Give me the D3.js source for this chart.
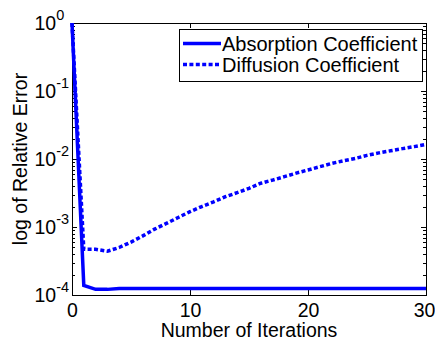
<html lang="en">
<head>
<meta charset="utf-8">
<title>Relative error vs iterations</title>
<style>
  body { margin: 0; background: white; }
  text { font-family: Arial, "Liberation Sans", Helvetica, sans-serif; fill: black; }
  .axis path, .axis line { stroke: black; stroke-width: 1px; shape-rendering: crispEdges; }
  .axis text { font-size: 19.5px; }
</style>
</head>
<body>
<div id="chart"></div>
<script src="https://d3js.org/d3.v7.min.js"></script>
<script>
// data
var iterations = [0,1,2,3,4,5,6,7,8,9,10,11,12,13,14,15,16,17,18,19,20,21,22,23,24,25,26,27,28,29,30];
var absorption = [1, 1.38e-4, 1.21e-4, 1.21e-4, 1.25e-4, 1.25e-4, 1.25e-4, 1.25e-4, 1.25e-4, 1.25e-4,
                  1.25e-4, 1.25e-4, 1.25e-4, 1.25e-4, 1.25e-4, 1.25e-4, 1.25e-4, 1.25e-4, 1.25e-4, 1.25e-4,
                  1.25e-4, 1.25e-4, 1.25e-4, 1.25e-4, 1.25e-4, 1.25e-4, 1.25e-4, 1.25e-4, 1.25e-4, 1.25e-4, 1.25e-4];
var diffusion = [1, 4.7e-4, 4.7e-4, 4.4e-4, 5.0e-4, 6.0e-4, 7.4e-4, 9.3e-4, 1.13e-3, 1.38e-3,
                 1.68e-3, 2.0e-3, 2.34e-3, 2.79e-3, 3.2e-3, 3.7e-3, 4.4e-3, 4.9e-3, 5.5e-3, 6.2e-3,
                 6.9e-3, 7.7e-3, 8.6e-3, 9.4e-3, 1.02e-2, 1.13e-2, 1.23e-2, 1.32e-2, 1.42e-2, 1.52e-2, 1.64e-2];
var seriesNames = ["Absorption Coefficient", "Diffusion Coefficient"];
var xTicks = [0, 10, 20, 30];
var yExponents = [0, -1, -2, -3, -4];

var width = 435, height = 341;
var margin = {left: 72, top: 23, right: 9, bottom: 46};
var blue = "#0000ff";

var svg = d3.select("#chart").append("svg")
    .attr("width", width)
    .attr("height", height);

var x = d3.scaleLinear().domain([0, 30]).range([margin.left, width - margin.right]);
var y = d3.scaleLog().domain([1e-4, 1]).range([height - margin.bottom, margin.top]);

// minor log ticks 2..9 per decade
var minor = [];
yExponents.forEach(function(e) {
    if (e === 0) return;
    for (var k = 2; k <= 9; k++) minor.push(k * Math.pow(10, e));
});
var major = yExponents.map(function(e) { return Math.pow(10, e); });

// frame
svg.append("rect")
    .attr("x", x(0)).attr("y", y(1))
    .attr("width", x(30) - x(0)).attr("height", y(1e-4) - y(1))
    .attr("fill", "white").attr("stroke", "black").attr("stroke-width", 1)
    .attr("shape-rendering", "crispEdges");

// x axes (bottom with labels, top mirrored)
svg.append("g").attr("class", "axis")
    .attr("transform", "translate(0," + y(1e-4) + ")")
    .call(d3.axisBottom(x).tickValues(xTicks).tickSize(-5).tickPadding(8).tickFormat(d3.format("d")))
    .selectAll(".tick text")
    .attr("dx", function(d) { return d === 30 ? -2 : 0; });
svg.append("g").attr("class", "axis")
    .attr("transform", "translate(0," + y(1) + ")")
    .call(d3.axisTop(x).tickValues(xTicks).tickSize(-5).tickFormat(""));

// y axes: major + minor ticks, left and right
[["left", x(0)], ["right", x(30)]].forEach(function(s) {
    var mk = s[0] === "left" ? d3.axisLeft : d3.axisRight;
    svg.append("g").attr("class", "axis")
        .attr("transform", "translate(" + s[1] + ",0)")
        .call(mk(y).tickValues(major).tickSize(-5).tickFormat(""));
    svg.append("g").attr("class", "axis")
        .attr("transform", "translate(" + s[1] + ",0)")
        .call(mk(y).tickValues(minor).tickSize(-3).tickFormat(""));
});

// y tick labels with superscript exponents
var yl = svg.append("g").selectAll("text")
    .data(yExponents).enter().append("text")
    .attr("x", 34.5)
    .attr("y", function(e) { return y(Math.pow(10, e)) + 7; })
    .attr("font-size", "19.5px");
yl.append("tspan").text("10");
yl.append("tspan")
    .attr("dy", -10)
    .attr("font-size", "14.5px")
    .text(function(e) { return e; });

// axis titles
svg.append("text")
    .attr("x", (x(0) + x(30)) / 2)
    .attr("y", 337)
    .attr("text-anchor", "middle")
    .attr("font-size", "19.5px")
    .text("Number of Iterations");
svg.append("text")
    .attr("transform", "translate(27," + (y(1) + y(1e-4)) / 2 + ") rotate(-90)")
    .attr("text-anchor", "middle")
    .attr("font-size", "19.5px")
    .text("log of Relative Error");

// lines
var line = d3.line()
    .x(function(d) { return x(d[0]); })
    .y(function(d) { return y(d[1]); });

svg.append("path")
    .datum(iterations.map(function(t, i) { return [t, diffusion[i]]; }))
    .attr("d", line)
    .attr("fill", "none").attr("stroke", blue).attr("stroke-width", 3.5)
    .attr("stroke-dasharray", "4,2.4");
svg.append("path")
    .datum(iterations.map(function(t, i) { return [t, absorption[i]]; }))
    .attr("d", line)
    .attr("fill", "none").attr("stroke", blue).attr("stroke-width", 3.5);

// legend
var lg = svg.append("g");
lg.append("rect")
    .attr("x", 179).attr("y", 29).attr("width", 243).attr("height", 52)
    .attr("fill", "white").attr("stroke", "black").attr("stroke-width", 1)
    .attr("shape-rendering", "crispEdges");
seriesNames.forEach(function(name, i) {
    var ly = 43.5 + i * 21;
    lg.append("line")
        .attr("x1", 183).attr("x2", 221).attr("y1", ly).attr("y2", ly)
        .attr("stroke", blue).attr("stroke-width", 3.5)
        .attr("stroke-dasharray", i === 1 ? "4,2.4" : null);
    lg.append("text")
        .attr("x", 222).attr("y", ly + 7)
        .attr("font-size", "20px")
        .text(name);
});
</script>
</body>
</html>
